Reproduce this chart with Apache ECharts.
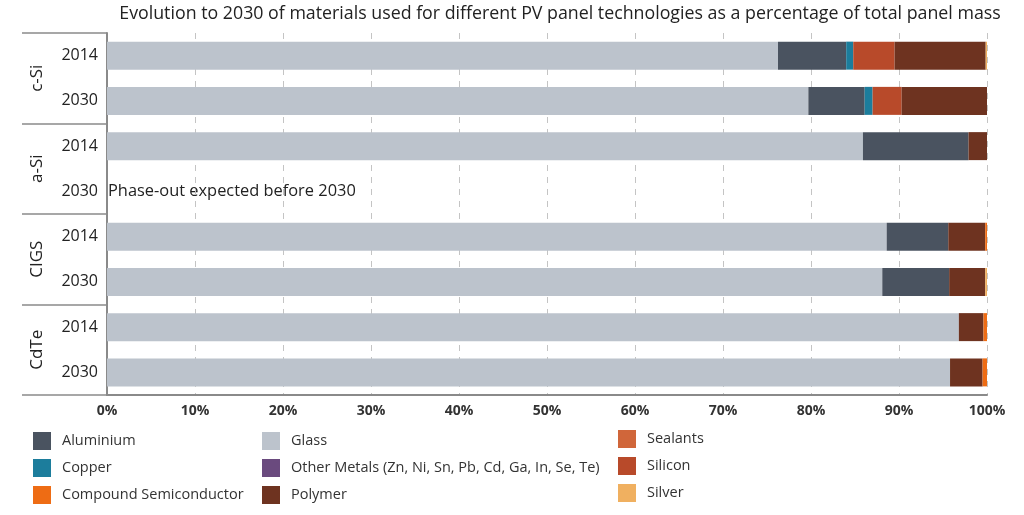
<!DOCTYPE html>
<html>
<head>
<meta charset="utf-8">
<script src="https://cdn.jsdelivr.net/npm/echarts@6/dist/echarts.min.js"></script>
<style>
html,body{margin:0;padding:0;background:#fff;}
#chart{width:1024px;height:515px;}
</style>
</head>
<body>
<div id="chart"></div>
<script>
// ---- data ----
var groups = ['c-Si', 'a-Si', 'CIGS', 'CdTe'];
var rowIds = ['c-Si 2014', 'c-Si 2030', 'a-Si 2014', 'a-Si 2030', 'CIGS 2014', 'CIGS 2030', 'CdTe 2014', 'CdTe 2030'];
var rowYears = ['2014', '2030', '2014', '2030', '2014', '2030', '2014', '2030'];
var xTicks = [0, 10, 20, 30, 40, 50, 60, 70, 80, 90, 100];

var glass = [76.25, 79.7, 85.9, 0, 88.6, 88.1, 96.8, 95.8];
var aluminium = [7.75, 6.4, 12.0, 0, 7.0, 7.6, 0, 0];
var copper = [0.8, 0.9, 0, 0, 0, 0, 0, 0];
var silicon = [4.7, 3.3, 0, 0, 0, 0, 0, 0];
var polymer = [10.35, 9.7, 2.1, 0, 4.2, 4.1, 2.8, 3.7];
var otherMetals = [0, 0, 0, 0, 0, 0, 0, 0];
var sealants = [0, 0, 0, 0, 0, 0, 0, 0];
var compoundSemi = [0, 0, 0, 0, 0.2, 0, 0.4, 0.5];
var silver = [0.15, 0, 0, 0, 0, 0.2, 0, 0];

var phaseOutNote = 'Phase-out expected before 2030';
var titleText = 'Evolution to 2030 of materials used for different PV panel technologies as a percentage of total panel mass';

// ---- chart ----
var FONT = 'Open Sans';
var colors = {
  'Aluminium': '#4a5360',
  'Copper': '#1c7d9c',
  'Compound Semiconductor': '#ee6c14',
  'Glass': '#bcc3cc',
  'Other Metals (Zn, Ni, Sn, Pb, Cd, Ga, In, Se, Te)': '#6a4a7e',
  'Polymer': '#6e3320',
  'Sealants': '#d0663a',
  'Silicon': '#b84a2a',
  'Silver': '#f0b060'
};
var stackOrder = [
  ['Glass', glass],
  ['Aluminium', aluminium],
  ['Copper', copper],
  ['Silicon', silicon],
  ['Polymer', polymer],
  ['Other Metals (Zn, Ni, Sn, Pb, Cd, Ga, In, Se, Te)', otherMetals],
  ['Sealants', sealants],
  ['Compound Semiconductor', compoundSemi],
  ['Silver', silver]
];

var series = stackOrder.map(function (s) {
  return {
    name: s[0],
    type: 'bar',
    stack: 'total',
    barWidth: 28,
    data: s[1],
    itemStyle: { color: colors[s[0]] },
    emphasis: { disabled: true }
  };
});

var legendText = { fontFamily: FONT, fontSize: 14.5, color: '#333', padding: [0, 0, 0, 6] };
function mkLegend(left, top, data) {
  return {
    orient: 'vertical', left: left, top: top, padding: 0,
    itemWidth: 18, itemHeight: 18, itemGap: 9, icon: 'rect',
    selectedMode: false, data: data, textStyle: legendText
  };
}

var chart = echarts.init(document.getElementById('chart'));
chart.setOption({
  animation: false,
  textStyle: { fontFamily: FONT },
  title: {
    text: titleText, left: 555, top: 0, textAlign: 'center',
    textStyle: { fontFamily: FONT, fontSize: 17.8, fontWeight: 'normal', color: '#222' }
  },
  grid: { left: 107, right: 37, top: 33, height: 362 },
  xAxis: {
    type: 'value', min: 0, max: 100, interval: 10,
    axisLine: { show: true, lineStyle: { color: '#8a8a8a', width: 2 } },
    axisTick: { show: false },
    splitLine: { show: true, lineStyle: { color: '#c4c4c4', type: [6, 6], width: 1 } },
    axisLabel: {
      formatter: '{value}%', fontFamily: FONT, fontSize: 14, fontWeight: 'bold', color: '#333', margin: 9
    }
  },
  yAxis: [{
    type: 'category', inverse: true, data: rowIds,
    axisLine: { show: true, lineStyle: { color: '#8a8a8a', width: 2 } },
    axisTick: { show: false },
    axisLabel: {
      formatter: function (v, i) { return rowYears[i]; },
      fontFamily: FONT, fontSize: 16, color: '#222', margin: 9
    }
  }, {
    type: 'category', inverse: true, data: groups, position: 'left',
    axisLine: { show: false },
    axisTick: { show: true, length: 85, lineStyle: { color: '#8a8a8a', width: 1.5 } },
    axisLabel: { rotate: 90, fontFamily: FONT, fontSize: 17, color: '#222', margin: 61 }
  }],
  legend: [
    mkLegend(33, 432, ['Aluminium', 'Copper', 'Compound Semiconductor']),
    mkLegend(262, 432, ['Glass', 'Other Metals (Zn, Ni, Sn, Pb, Cd, Ga, In, Se, Te)', 'Polymer']),
    mkLegend(618, 430, ['Sealants', 'Silicon', 'Silver'])
  ],
  graphic: [{
    type: 'text', left: 108, top: 183,
    style: { text: phaseOutNote, fontFamily: FONT, fontSize: 16.4, fill: '#222' }
  }],
  series: series
});
</script>
</body>
</html>
